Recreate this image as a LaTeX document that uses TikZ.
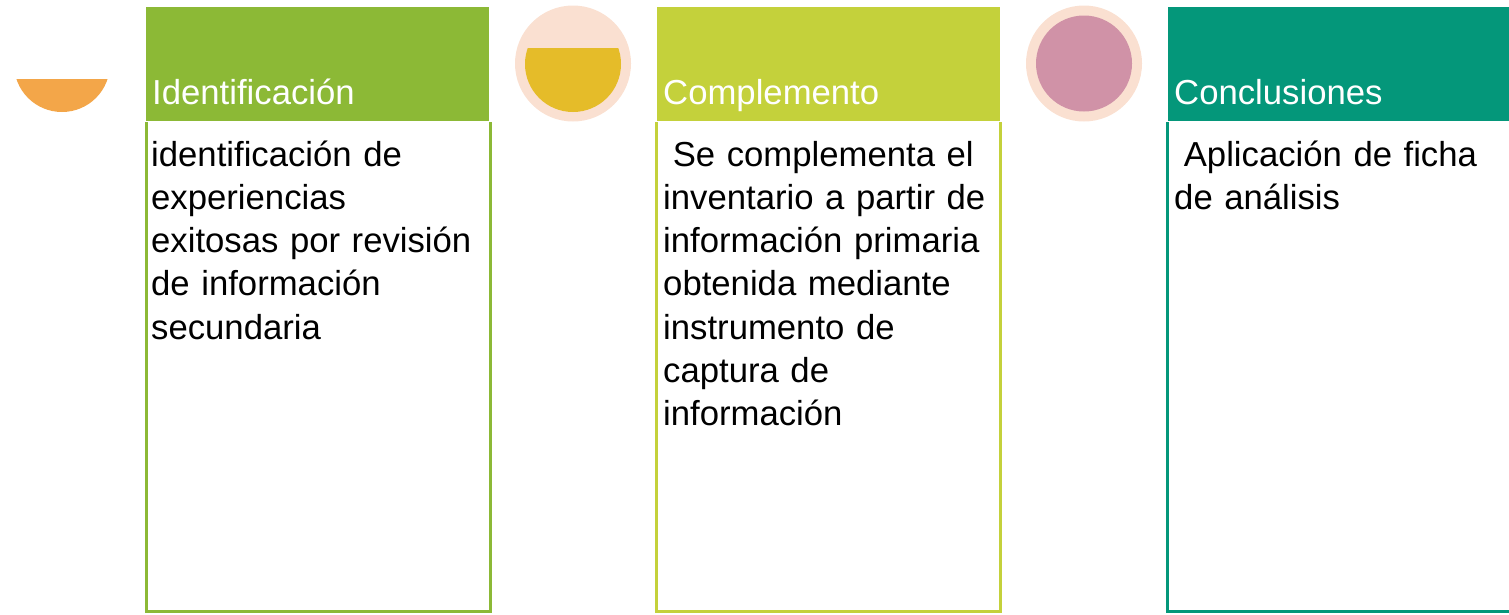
\documentclass[tikz,border=0pt]{standalone}
\usepackage{fontspec}
\setmainfont{Liberation Sans}
\definecolor{gA}{HTML}{8CB936}
\definecolor{gB}{HTML}{C4D13B}
\definecolor{gC}{HTML}{04977A}
\definecolor{cOr}{HTML}{F3A649}
\definecolor{cYe}{HTML}{E5BC29}
\definecolor{cPk}{HTML}{D092A7}
\definecolor{cPe}{HTML}{FAE0D1}
\tikzset{
  hdr/.style={anchor=north west, inner sep=0pt, minimum width=343pt, minimum height=114pt, draw=none},
  hdrtext/.style={anchor=base west, inner sep=0pt, text=white, font=\fontsize{34.7}{43.3}\selectfont},
  bodytext/.style={anchor=base west, inner sep=0pt, text width=420pt, align=left, text=black, font=\fontsize{34.7}{43.3}\selectfont},
  bodyline/.style={line width=3pt},
  ring/.style={circle, fill=cPe, minimum size=116pt, inner sep=0pt},
}
\begin{document}
\begin{tikzpicture}[x=1pt,y=-1pt]
\useasboundingbox (0,0) rectangle (1509,614);
% circle markers
\begin{scope}
  \clip (0,79) rectangle (150,200);
  \fill[cOr] (62,64) circle (48);
\end{scope}
\node[ring] (r2) at (573,63.5) {};
\begin{scope}
  \clip (500,48) rectangle (650,200);
  \fill[cYe] (573,64) circle (48);
\end{scope}
\node[ring] (r3) at (1084,63.5) {};
\node[circle, fill=cPk, minimum size=96pt, inner sep=0pt] (c3) at (r3.center) {};
% bodies
\coordinate (b1a) at (146,122); \coordinate (b1b) at (146,611.5);
\coordinate (b1c) at (490,611.5); \coordinate (b1d) at (490,122);
\draw[bodyline, gA] (b1a) -- (b1b) -- (b1c) -- (b1d);
\coordinate (b2a) at (656.5,122); \coordinate (b2b) at (656.5,611.5);
\coordinate (b2c) at (1000.5,611.5); \coordinate (b2d) at (1000.5,122);
\draw[bodyline, gB] (b2a) -- (b2b) -- (b2c) -- (b2d);
\coordinate (b3a) at (1167,122); \coordinate (b3b) at (1167,611.5);
\coordinate (b3c) at (1515,611.5);
\draw[bodyline, gC] (b3a) -- (b3b) -- (b3c);
% headers
\node[hdr, fill=gA] (h1) at (146,7) {};
\node[hdr, fill=gB] (h2) at (657,7) {};
\node[hdr, fill=gC, minimum width=345pt] (h3) at (1168,7) {};
\node[hdrtext] (t1) at (152,104.5) {Identificación};
\node[hdrtext] (t2) at (663,104.5) {Complemento};
\node[hdrtext] (t3) at (1174,104.5) {Conclusiones};
% body texts
\node[bodytext] (d1) at (151,166) {identificación de\\experiencias\\exitosas por revisión\\de información\\secundaria};
\node[bodytext] (d2) at (663,166) {\hspace*{9.6pt}Se complementa el\\inventario a partir de\\información primaria\\obtenida mediante\\instrumento de\\captura de\\información};
\node[bodytext] (d3) at (1174,166) {\hspace*{9.6pt}Aplicación de ficha\\de análisis};
\end{tikzpicture}
\end{document}
